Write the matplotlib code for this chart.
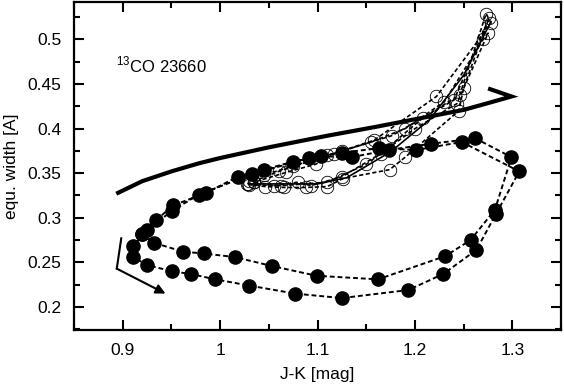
import matplotlib
matplotlib.use("Agg")
import matplotlib.pyplot as plt
from matplotlib.ticker import MultipleLocator

plt.rcParams['font.family'] = ['Liberation Sans', 'DejaVu Sans']

# filled circles: J-K and equivalent width (two cycles)
jk_filled = [0.920, 0.932, 0.962, 0.983, 1.015, 1.053, 1.099, 1.162, 1.231, 1.257, 1.282, 1.299,
             1.262, 1.216, 1.173, 1.135, 1.104, 1.075, 1.045, 1.018, 0.986, 0.952, 0.934, 0.925,
             0.911, 0.911, 0.925, 0.951, 0.970, 0.995, 1.030, 1.077, 1.125, 1.193, 1.229, 1.263,
             1.283, 1.307, 1.248, 1.201, 1.163, 1.125, 1.091, 1.033, 0.978, 0.951, 0.920]
ew_filled = [0.282, 0.272, 0.262, 0.260, 0.256, 0.246, 0.235, 0.231, 0.257, 0.275, 0.309, 0.368,
             0.389, 0.383, 0.376, 0.368, 0.369, 0.363, 0.354, 0.346, 0.328, 0.314, 0.297, 0.286,
             0.268, 0.256, 0.247, 0.240, 0.237, 0.231, 0.224, 0.215, 0.210, 0.219, 0.237, 0.264,
             0.304, 0.352, 0.385, 0.376, 0.378, 0.373, 0.367, 0.349, 0.326, 0.308, 0.282]

# open circles: three model loops
jk_open_a = [1.029, 1.046, 1.066, 1.088, 1.110, 1.126, 1.174, 1.190, 1.245, 1.250, 1.276,
             1.240, 1.176, 1.117, 1.098, 1.068, 1.035]
ew_open_a = [0.338, 0.335, 0.334, 0.334, 0.335, 0.344, 0.354, 0.368, 0.420, 0.446, 0.524,
             0.432, 0.392, 0.372, 0.360, 0.351, 0.340]
jk_open_b = [1.035, 1.055, 1.080, 1.093, 1.125, 1.165, 1.208, 1.246, 1.273, 1.278, 1.222,
             1.158, 1.125, 1.075, 1.045, 1.030]
ew_open_b = [0.340, 0.336, 0.340, 0.336, 0.346, 0.372, 0.412, 0.438, 0.529, 0.518, 0.436,
             0.387, 0.375, 0.358, 0.348, 0.341]
jk_open_c = [1.030, 1.063, 1.110, 1.150, 1.200, 1.243, 1.275, 1.270, 1.230, 1.190, 1.155,
             1.110, 1.060, 1.028]
ew_open_c = [0.337, 0.336, 0.340, 0.360, 0.400, 0.428, 0.507, 0.500, 0.430, 0.400, 0.385,
             0.370, 0.352, 0.338]

# thin solid mean track
jk_mean = [1.030, 1.100, 1.130, 1.175, 1.215, 1.250, 1.278]
ew_mean = [0.338, 0.338, 0.345, 0.374, 0.410, 0.460, 0.520]

# thick solid track with hook
jk_thick = [0.8935, 0.920, 0.950, 0.978, 1.000, 1.050, 1.110, 1.160, 1.212, 1.250, 1.273, 1.299, 1.275]
ew_thick = [0.327, 0.341, 0.352, 0.361, 0.367, 0.379, 0.392, 0.402, 0.413, 0.421, 0.428, 0.436, 0.445]

# direction arrow
jk_arrow = [0.8986, 0.894, 0.944]
ew_arrow = [0.277, 0.243, 0.215]

fig = plt.figure(figsize=(5.64, 3.88), dpi=100)
ax = fig.add_axes([0.131, 0.149, 0.864, 0.846])

ax.plot(jk_thick, ew_thick, '-', color='black', lw=3.0, solid_capstyle='butt',
        solid_joinstyle='miter', zorder=2)

for xs, ys in [(jk_open_a, ew_open_a), (jk_open_b, ew_open_b), (jk_open_c, ew_open_c)]:
    ax.plot(xs, ys, linestyle=(0, (2.5, 1.5)), color='black', lw=1.2,
            marker='o', markersize=9, markerfacecolor='none', markeredgecolor='black',
            markeredgewidth=0.6, zorder=3)
ax.plot(jk_mean, ew_mean, '-', color='black', lw=1.2, zorder=3)

ax.plot(jk_filled, ew_filled, linestyle=(0, (2.5, 1.5)), color='black', lw=1.4,
        marker='o', markersize=9.5, markerfacecolor='black', markeredgecolor='black', zorder=4)

ax.plot(jk_arrow[:2], ew_arrow[:2], '-', color='black', lw=1.5)
ax.annotate('', xy=(jk_arrow[2], ew_arrow[2]), xytext=(jk_arrow[1], ew_arrow[1]),
            arrowprops=dict(arrowstyle='-|>', color='black', lw=1.5,
                            mutation_scale=14, shrinkA=0, shrinkB=0))

ax.text(0.893, 0.463, r'$^{\mathregular{13}}$CO 23660', fontsize=12, ha='left', va='baseline')

ax.set_xlim(0.85, 1.35)
ax.set_ylim(0.174, 0.542)
ax.xaxis.set_minor_locator(MultipleLocator(0.05))
ax.yaxis.set_minor_locator(MultipleLocator(0.025))
ax.set_xticks([0.9, 1.0, 1.1, 1.2, 1.3])
ax.set_xticklabels(['0.9', '1', '1.1', '1.2', '1.3'])
ax.set_yticks([0.2, 0.25, 0.3, 0.35, 0.4, 0.45, 0.5])
ax.set_yticklabels(['0.2', '0.25', '0.3', '0.35', '0.4', '0.45', '0.5'])
ax.tick_params(which='both', direction='in', top=True, right=True, width=1.5, labelsize=12.5)
ax.tick_params(which='major', length=7, pad=9)
ax.tick_params(which='minor', length=4)
for s in ax.spines.values():
    s.set_linewidth(1.6)

ax.set_xlabel('J-K [mag]', fontsize=12.5, labelpad=7)
ax.set_ylabel('equ. width [A]', fontsize=12.5, labelpad=6)

fig.savefig('out.png', dpi=100)
